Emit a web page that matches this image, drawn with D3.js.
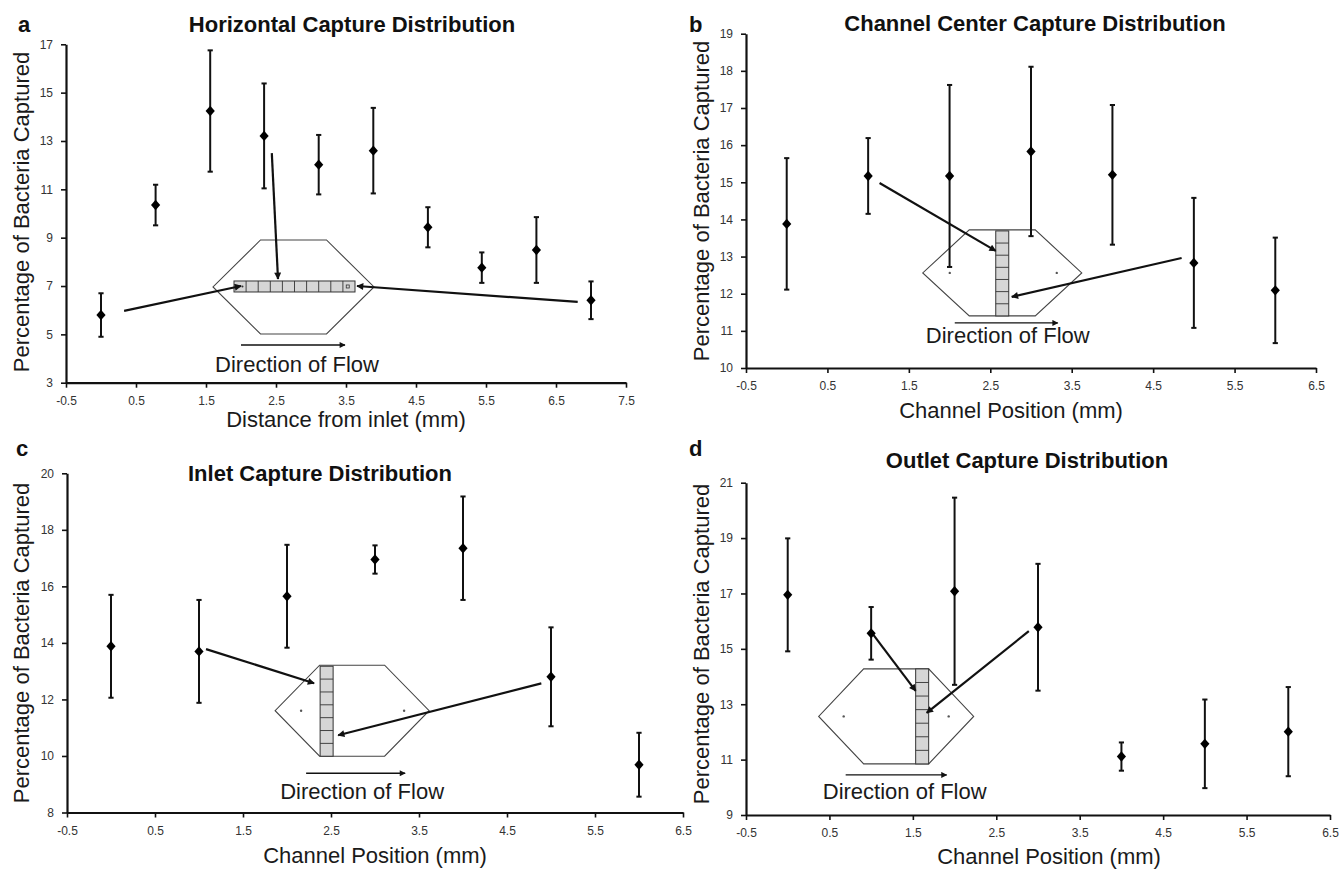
<!DOCTYPE html>
<html>
<head>
<meta charset="utf-8">
<script src="https://cdn.jsdelivr.net/npm/d3@7"></script>
<style>
  body { margin: 0; background: #fff; }
  svg { display: block; font-family: "Liberation Sans", Arial, sans-serif; }
</style>
</head>
<body>
<svg id="chart" width="1341" height="873"></svg>
<script>
// a - horizontal capture (mean +/- error)
var aX    = [0, 0.78, 1.56, 2.33, 3.11, 3.89, 4.67, 5.44, 6.22, 7.0];
var aMean = [5.80, 10.35, 14.24, 13.21, 12.02, 12.60, 9.43, 7.76, 8.49, 6.41];
var aErr  = [0.90, 0.84, 2.51, 2.17, 1.23, 1.77, 0.83, 0.63, 1.36, 0.78];

// b - channel center
var bX    = [0, 1, 2, 3, 4, 5, 6];
var bMean = [13.88, 15.17, 15.17, 15.83, 15.20, 12.83, 12.09];
var bErr  = [1.77, 1.02, 2.45, 2.28, 1.88, 1.75, 1.42];

// c - inlet
var cX    = [0, 1, 2, 3, 4, 5, 6];
var cMean = [13.88, 13.70, 15.65, 16.95, 17.35, 12.80, 9.69];
var cErr  = [1.82, 1.82, 1.82, 0.50, 1.83, 1.75, 1.13];

// d - outlet
var dX    = [0, 1, 2, 3, 4, 5, 6];
var dMean = [16.95, 15.56, 17.08, 15.78, 11.11, 11.57, 12.01];
var dErr  = [2.04, 0.95, 3.38, 2.29, 0.51, 1.60, 1.61];

// tick labels
var xTicks8 = [-0.5, 0.5, 1.5, 2.5, 3.5, 4.5, 5.5, 6.5, 7.5];
var xTicks7 = [-0.5, 0.5, 1.5, 2.5, 3.5, 4.5, 5.5, 6.5];
var aYTicks = [3, 5, 7, 9, 11, 13, 15, 17];
var bYTicks = [10, 11, 12, 13, 14, 15, 16, 17, 18, 19];
var cYTicks = [8, 10, 12, 14, 16, 18, 20];
var dYTicks = [9, 11, 13, 15, 17, 19, 21];

var yTitle = "Percentage of Bacteria Captured";

var panels = [
  { letter: "a", title: "Horizontal Capture Distribution", xLabel: "Distance from inlet (mm)",
    xs: aX, ys: aMean, es: aErr, xTicks: xTicks8, yTicks: aYTicks,
    xr: [66, 626], yr: [382.7, 44.3],
    letterPos: [18, 32], titlePos: [352, 32], xLabelPos: [346, 427], yLabelPos: [29, 212],
    inset: { cx: 2.75, cy: 6.96, hw: 80.5, hf: 33, hh: 47,
      strip: { x0: -59.5, x1: 61.5, y0: -6, y1: 5, n: 10, dir: "h" },
      dots: [], marks: true,
      arrows: [{ from: [0.33, 5.97], to: [-52.5, -1] },
               { from: [6.81, 6.34], to: [63.5, -1] },
               { from: [2.44, 12.5], to: [-15.5, -8] }],
      flow: { x0: -52.5, x1: 51.5, y: 58 }, text: [3.5, 85] } },
  { letter: "b", title: "Channel Center Capture Distribution", xLabel: "Channel Position (mm)",
    xs: bX, ys: bMean, es: bErr, xTicks: xTicks7, yTicks: bYTicks,
    xr: [746, 1316], yr: [368, 33.7],
    letterPos: [689, 32], titlePos: [1035, 31], xLabelPos: [1011, 418], yLabelPos: [709, 201],
    inset: { cx: 2.647, cy: 12.56, hw: 79.5, hf: 33, hh: 43,
      strip: { x0: -6.5, x1: 6.5, y0: -42, y1: 43, n: 7, dir: "v" },
      dots: [[-52.5, 0], [54.5, 0]],
      arrows: [{ from: [1.14, 14.98], to: [-6.5, -22] },
               { from: [4.85, 12.96], to: [9.5, 24] }],
      flow: { x0: -47.5, x1: 55.5, y: 50 }, text: [5.5, 70] } },
  { letter: "c", title: "Inlet Capture Distribution", xLabel: "Channel Position (mm)",
    xs: cX, ys: cMean, es: cErr, xTicks: xTicks7, yTicks: cYTicks,
    xr: [67, 683], yr: [812.5, 473.3],
    letterPos: [16, 456], titlePos: [320, 481], xLabelPos: [375, 863], yLabelPos: [29, 643],
    inset: { cx: 2.74, cy: 11.6, hw: 77, hf: 32.5, hh: 45.5,
      strip: { x0: -32, x1: -19, y0: -44.5, y1: 45.5, n: 7, dir: "v" },
      dots: [[-51, 0], [52, 0]],
      arrows: [{ from: [1.08, 13.78], to: [-38, -27.5] },
               { from: [4.89, 12.57], to: [-14, 24.5] }],
      flow: { x0: -46, x1: 53, y: 62.5 }, text: [10, 88.5] } },
  { letter: "d", title: "Outlet Capture Distribution", xLabel: "Channel Position (mm)",
    xs: dX, ys: dMean, es: dErr, xTicks: xTicks7, yTicks: dYTicks,
    xr: [746, 1330], yr: [815, 482.7],
    letterPos: [689, 456], titlePos: [1027, 468], xLabelPos: [1049, 864], yLabelPos: [709, 644],
    inset: { cx: 1.30, cy: 12.56, hw: 77.5, hf: 32.5, hh: 47.5,
      strip: { x0: 19.5, x1: 32.5, y0: -47.5, y1: 47.5, n: 7, dir: "v" },
      dots: [[-52.5, 0], [52.5, 0]],
      arrows: [{ from: [1.0, 15.61], to: [19.5, -25.5] },
               { from: [2.89, 15.64], to: [30.5, -3.5] }],
      flow: { x0: -50.5, x1: 50.5, y: 58.5 }, text: [8.5, 82.5] } }
];

var svg = d3.select("#chart");

var defs = svg.append("defs");
defs.append("marker")
  .attr("id", "head").attr("viewBox", "0 0 10 10")
  .attr("refX", 9).attr("refY", 5)
  .attr("markerWidth", 9).attr("markerHeight", 7)
  .attr("markerUnits", "userSpaceOnUse").attr("orient", "auto")
  .append("path").attr("d", "M0,0L10,5L0,10Z").attr("fill", "#111");
defs.append("marker")
  .attr("id", "headSmall").attr("viewBox", "0 0 10 10")
  .attr("refX", 9).attr("refY", 5)
  .attr("markerWidth", 8).attr("markerHeight", 6)
  .attr("markerUnits", "userSpaceOnUse").attr("orient", "auto")
  .append("path").attr("d", "M0,0L10,5L0,10Z").attr("fill", "#111");

var fmt = function(d) { return String(d); };

panels.forEach(function(p) {
  var g = svg.append("g");
  var xDom = [p.xTicks[0], p.xTicks[p.xTicks.length - 1]];
  var yDom = [p.yTicks[0], p.yTicks[p.yTicks.length - 1]];
  var x = d3.scaleLinear().domain(xDom).range(p.xr);
  var y = d3.scaleLinear().domain(yDom).range(p.yr);

  // inset sketch first so the data sits on top
  var ins = p.inset;
  var ox = x(ins.cx), oy = y(ins.cy);
  var ig = g.append("g").attr("transform", "translate(" + ox + "," + oy + ")");
  var hex = [[-ins.hf, -ins.hh], [ins.hf, -ins.hh], [ins.hw, 0], [ins.hf, ins.hh], [-ins.hf, ins.hh], [-ins.hw, 0]];
  ig.append("path")
    .attr("d", d3.line()(hex) + "Z")
    .attr("fill", "none").attr("stroke", "#444").attr("stroke-width", 1.1);

  var s = ins.strip;
  ig.append("rect")
    .attr("x", s.x0).attr("y", s.y0)
    .attr("width", s.x1 - s.x0).attr("height", s.y1 - s.y0)
    .attr("fill", "#d6d6d6").attr("stroke", "#333").attr("stroke-width", 1);
  d3.range(1, s.n).forEach(function(i) {
    if (s.dir === "h") {
      var xx = s.x0 + (s.x1 - s.x0) * i / s.n;
      ig.append("line").attr("x1", xx).attr("x2", xx).attr("y1", s.y0).attr("y2", s.y1)
        .attr("stroke", "#333").attr("stroke-width", 0.9);
    } else {
      var yy = s.y0 + (s.y1 - s.y0) * i / s.n;
      ig.append("line").attr("x1", s.x0).attr("x2", s.x1).attr("y1", yy).attr("y2", yy)
        .attr("stroke", "#333").attr("stroke-width", 0.9);
    }
  });
  if (ins.marks) {
    var cw = (s.x1 - s.x0) / s.n;
    ig.append("circle").attr("cx", s.x0 + cw * 0.7).attr("cy", (s.y0 + s.y1) / 2)
      .attr("r", 1).attr("fill", "#333");
    ig.append("rect").attr("x", s.x1 - cw * 0.6 - 1.5).attr("y", (s.y0 + s.y1) / 2 - 1.5)
      .attr("width", 3).attr("height", 3).attr("fill", "none").attr("stroke", "#333").attr("stroke-width", 0.8);
  }
  ins.dots.forEach(function(dt) {
    ig.append("circle").attr("cx", dt[0]).attr("cy", dt[1]).attr("r", 1.2).attr("fill", "#555");
  });

  ig.append("line")
    .attr("x1", ins.flow.x0).attr("x2", ins.flow.x1)
    .attr("y1", ins.flow.y).attr("y2", ins.flow.y)
    .attr("stroke", "#111").attr("stroke-width", 1.4)
    .attr("marker-end", "url(#headSmall)");
  ig.append("text")
    .attr("x", ins.text[0]).attr("y", ins.text[1])
    .attr("text-anchor", "middle").attr("font-size", 22).attr("fill", "#1a1a1a")
    .text("Direction of Flow");

  ins.arrows.forEach(function(a) {
    g.append("line")
      .attr("x1", x(a.from[0])).attr("y1", y(a.from[1]))
      .attr("x2", ox + a.to[0]).attr("y2", oy + a.to[1])
      .attr("stroke", "#111").attr("stroke-width", 2.2)
      .attr("marker-end", "url(#head)");
  });

  // axes
  var xAxis = d3.axisBottom(x).tickValues(p.xTicks).tickFormat(fmt)
    .tickSize(5).tickSizeOuter(0).tickPadding(8.5);
  var yAxis = d3.axisLeft(y).tickValues(p.yTicks).tickFormat(fmt)
    .tickSize(5).tickSizeOuter(0).tickPadding(8);

  var gx = g.append("g").attr("transform", "translate(0," + p.yr[0] + ")").call(xAxis);
  var gy = g.append("g").attr("transform", "translate(" + p.xr[0] + ",0)").call(yAxis);
  [gx, gy].forEach(function(ax) {
    ax.select(".domain").attr("stroke", "#111").attr("stroke-width", 2.2);
    ax.selectAll(".tick line").attr("stroke", "#111").attr("stroke-width", 1.6);
    ax.selectAll(".tick text").attr("fill", "#333").attr("font-size", 12)
      .attr("font-family", "'Liberation Sans', Arial, sans-serif");
  });

  // error bars + diamonds
  var pts = p.xs.map(function(v, i) { return { x: v, m: p.ys[i], e: p.es[i] }; });
  var eb = g.append("g").attr("stroke", "#111").attr("stroke-width", 2);
  eb.selectAll("line.bar").data(pts).enter().append("line")
    .attr("x1", function(d) { return x(d.x); }).attr("x2", function(d) { return x(d.x); })
    .attr("y1", function(d) { return y(d.m - d.e); }).attr("y2", function(d) { return y(d.m + d.e); });
  eb.selectAll("line.top").data(pts).enter().append("line")
    .attr("x1", function(d) { return x(d.x) - 2.6; }).attr("x2", function(d) { return x(d.x) + 2.6; })
    .attr("y1", function(d) { return y(d.m + d.e); }).attr("y2", function(d) { return y(d.m + d.e); });
  eb.selectAll("line.bot").data(pts).enter().append("line")
    .attr("x1", function(d) { return x(d.x) - 2.6; }).attr("x2", function(d) { return x(d.x) + 2.6; })
    .attr("y1", function(d) { return y(d.m - d.e); }).attr("y2", function(d) { return y(d.m - d.e); });

  g.selectAll("path.pt").data(pts).enter().append("path")
    .attr("class", "pt")
    .attr("d", "M0,-5.2L4.6,0L0,5.2L-4.6,0Z")
    .attr("fill", "#000")
    .attr("transform", function(d) { return "translate(" + x(d.x) + "," + y(d.m) + ")"; });

  // texts
  g.append("text").attr("x", p.letterPos[0]).attr("y", p.letterPos[1])
    .attr("font-size", 22).attr("font-weight", "bold").attr("fill", "#111").text(p.letter);
  g.append("text").attr("x", p.titlePos[0]).attr("y", p.titlePos[1])
    .attr("text-anchor", "middle").attr("font-size", 22).attr("font-weight", "bold")
    .attr("fill", "#111").text(p.title);
  g.append("text").attr("x", p.xLabelPos[0]).attr("y", p.xLabelPos[1])
    .attr("text-anchor", "middle").attr("font-size", 22).attr("fill", "#1a1a1a").text(p.xLabel);
  g.append("text")
    .attr("transform", "translate(" + p.yLabelPos[0] + "," + p.yLabelPos[1] + ") rotate(-90)")
    .attr("text-anchor", "middle").attr("font-size", 22).attr("fill", "#1a1a1a").text(yTitle);
});
</script>
</body>
</html>
